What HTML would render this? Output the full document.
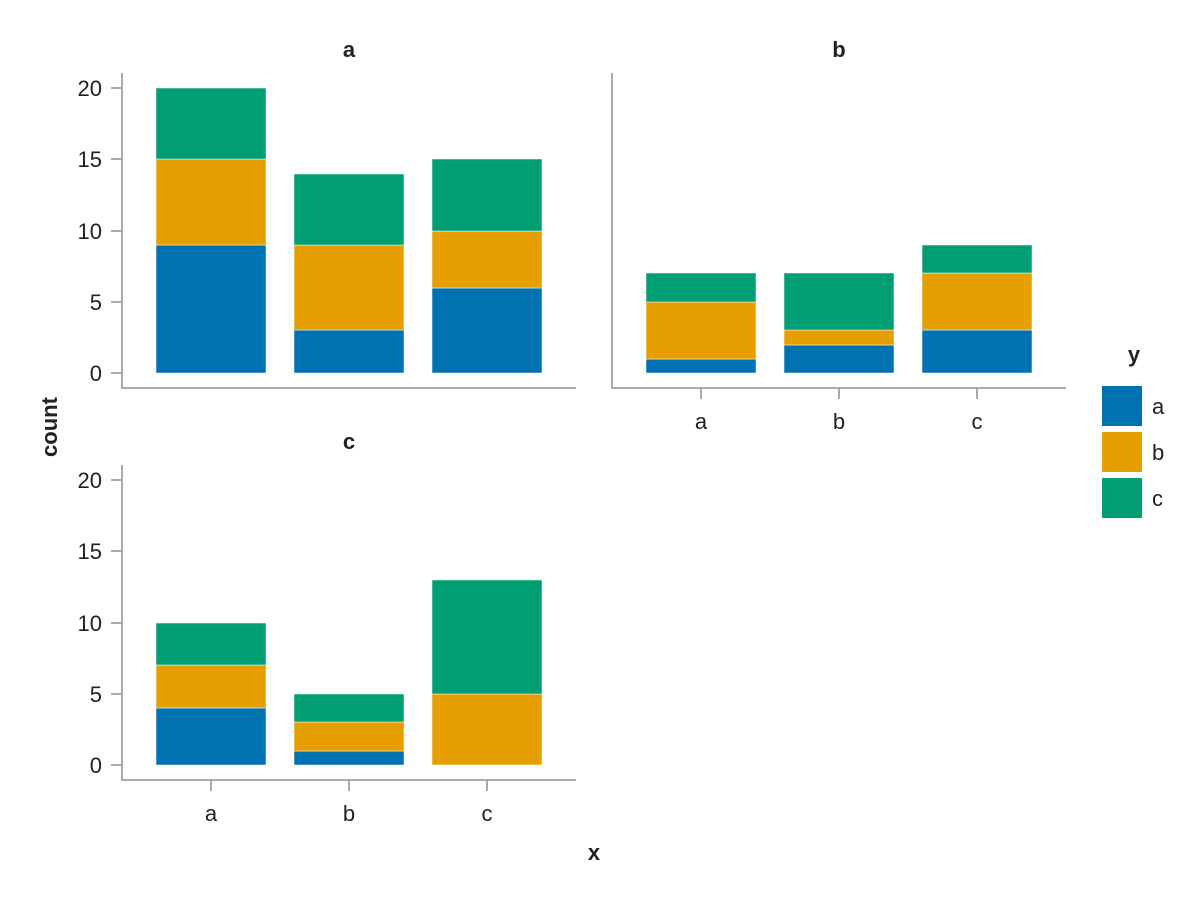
<!DOCTYPE html>
<html><head><meta charset="utf-8"><style>body{margin:0;background:#fff}svg{display:block}text{font-family:"Liberation Sans","DejaVu Sans",sans-serif;fill:#222}</style></head><body>
<svg width="1200" height="900" viewBox="0 0 1200 900">
<g stroke="#fff" stroke-width="0.5">
<!-- panel a: zero 373, 14.25/unit -->
<rect x="156" y="245" width="110" height="128" fill="#0072b2"/>
<rect x="156" y="159" width="110" height="86" fill="#e69f00"/>
<rect x="156" y="88" width="110" height="71" fill="#009e73"/>
<rect x="294" y="330" width="110" height="43" fill="#0072b2"/>
<rect x="294" y="245" width="110" height="85" fill="#e69f00"/>
<rect x="294" y="174" width="110" height="71" fill="#009e73"/>
<rect x="432" y="288" width="110" height="85" fill="#0072b2"/>
<rect x="432" y="231" width="110" height="57" fill="#e69f00"/>
<rect x="432" y="159" width="110" height="72" fill="#009e73"/>
<!-- panel b -->
<rect x="646" y="359" width="110" height="14" fill="#0072b2"/>
<rect x="646" y="302" width="110" height="57" fill="#e69f00"/>
<rect x="646" y="273" width="110" height="29" fill="#009e73"/>
<rect x="784" y="345" width="110" height="28" fill="#0072b2"/>
<rect x="784" y="330" width="110" height="15" fill="#e69f00"/>
<rect x="784" y="273" width="110" height="57" fill="#009e73"/>
<rect x="922" y="330" width="110" height="43" fill="#0072b2"/>
<rect x="922" y="273" width="110" height="57" fill="#e69f00"/>
<rect x="922" y="245" width="110" height="28" fill="#009e73"/>
<!-- panel c: zero 765 -->
<rect x="156" y="708" width="110" height="57" fill="#0072b2"/>
<rect x="156" y="665" width="110" height="43" fill="#e69f00"/>
<rect x="156" y="623" width="110" height="42" fill="#009e73"/>
<rect x="294" y="751" width="110" height="14" fill="#0072b2"/>
<rect x="294" y="722" width="110" height="29" fill="#e69f00"/>
<rect x="294" y="694" width="110" height="28" fill="#009e73"/>
<rect x="432" y="694" width="110" height="71" fill="#e69f00"/>
<rect x="432" y="580" width="110" height="114" fill="#009e73"/>
</g>
<g stroke="#aaa" stroke-width="2" fill="none">
<path d="M122 73V388H576"/>
<path d="M612 73V388H1066"/>
<path d="M122 465V780H576"/>
<path d="M111 373h10M111 302h10M111 231h10M111 159h10M111 88h10"/>
<path d="M111 765h10M111 694h10M111 623h10M111 551h10M111 480h10"/>
<path d="M701 389v10M839 389v10M977 389v10"/>
<path d="M211 781v10M349 781v10M487 781v10"/>
</g>
<g font-size="22" text-anchor="end">
<text x="102" y="381">0</text><text x="102" y="310">5</text><text x="102" y="239">10</text><text x="102" y="167">15</text><text x="102" y="96">20</text>
<text x="102" y="773">0</text><text x="102" y="702">5</text><text x="102" y="631">10</text><text x="102" y="559">15</text><text x="102" y="488">20</text>
</g>
<g font-size="22" text-anchor="middle">
<text x="701" y="429">a</text><text x="839" y="429">b</text><text x="977" y="429">c</text>
<text x="211" y="821">a</text><text x="349" y="821">b</text><text x="487" y="821">c</text>
</g>
<g font-size="22" font-weight="bold" text-anchor="middle">
<text x="349" y="57">a</text><text x="839" y="57">b</text><text x="349" y="449">c</text>
<text x="594" y="860">x</text>
<text x="1134" y="362">y</text>
<text transform="translate(57,427) rotate(-90)">count</text>
</g>
<rect x="1102" y="386" width="40" height="40" fill="#0072b2"/>
<rect x="1102" y="432" width="40" height="40" fill="#e69f00"/>
<rect x="1102" y="478" width="40" height="40" fill="#009e73"/>
<g font-size="22"><text x="1152" y="414">a</text><text x="1152" y="460">b</text><text x="1152" y="506">c</text></g>
</svg>
</body></html>
